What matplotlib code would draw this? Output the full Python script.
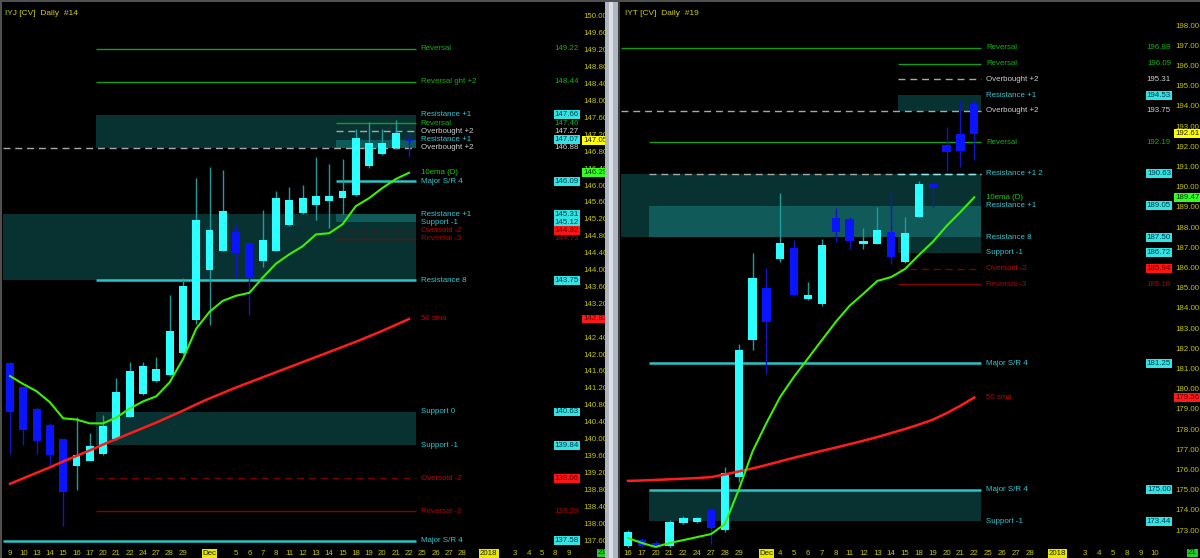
"""
Two daily candle panels (IYJ / IYT) with 10ema, 50 sma and level zones.
"""

import matplotlib
matplotlib.use("Agg")
import matplotlib.pyplot as plt
import matplotlib.transforms as mtransforms
from matplotlib.patches import Rectangle
import numpy as np

FS = 5.7
plt.rcParams["font.family"] = ["Liberation Sans", "DejaVu Sans"]
plt.rcParams["font.size"] = FS

# ---------------- IYJ ----------------
iyj_dates = ["9", "10", "13", "14", "15", "16", "17", "20", "21", "22", "24", "27", "28", "29", "",
             "Dec", "", "5", "6", "7", "8", "11", "12", "13", "14", "15", "18", "19", "20", "21",
             "22", "25", "26", "27", "28", "", "2018", "", "3", "4", "5", "8", "9"]
iyj_open = [141.79, 141.21, 140.71, 140.33, 139.98, 139.36, 139.48, 139.64, 139.98, 140.52,
            141.05, 141.36, 141.50, 142.02, 142.81, 143.98, 144.45, 144.90, 144.62, 144.21,
            144.45, 145.05, 145.33, 145.52, 145.62, 145.69, 145.76, 146.45, 146.74, 146.88, 147.10]
iyj_high = [141.82, 141.24, 140.74, 140.36, 140.00, 140.52, 140.14, 140.55, 141.43, 141.81,
            141.81, 141.93, 143.40, 143.81, 146.17, 146.43, 146.36, 145.05, 144.64, 145.40,
            145.86, 145.95, 146.00, 146.67, 146.50, 146.62, 147.33, 147.50, 147.33, 147.55, 147.24]
iyj_low = [139.64, 139.86, 139.64, 139.36, 137.93, 138.79, 139.46, 139.62, 139.96, 140.50,
           141.03, 141.34, 141.48, 142.00, 142.70, 142.69, 144.43, 143.79, 142.93, 144.05,
           144.43, 145.03, 145.31, 145.17, 144.98, 145.31, 145.74, 146.40, 146.72, 146.86, 146.67]
iyj_close = [140.64, 140.21, 139.95, 139.60, 138.74, 139.62, 139.83, 140.29, 141.10, 141.60,
             141.71, 141.64, 142.55, 143.60, 145.17, 144.93, 145.38, 144.38, 143.79, 144.69,
             145.69, 145.64, 145.69, 145.74, 145.74, 145.86, 147.12, 147.00, 147.00, 147.24, 147.05]
iyj_ema = [141.48, 141.29, 141.12, 140.86, 140.48, 140.45, 140.36, 140.36, 140.50, 140.71,
           140.88, 141.00, 141.33, 141.88, 142.60, 143.00, 143.26, 143.38, 143.45, 143.81,
           144.14, 144.36, 144.55, 144.83, 144.86, 145.07, 145.50, 145.69, 145.93, 146.14, 146.29]
iyj_sma = [138.93, 139.06, 139.19, 139.32, 139.46, 139.59, 139.72, 139.86, 139.99, 140.12,
           140.25, 140.38, 140.52, 140.66, 140.81, 140.95, 141.08, 141.21, 141.33, 141.45,
           141.57, 141.69, 141.81, 141.93, 142.05, 142.17, 142.29, 142.42, 142.55, 142.69, 142.83]

iyj_level_price = [149.22, 148.44, 147.66, 147.46, 147.27, 147.07, 146.88, 146.09, 145.31,
                   145.12, 144.92, 144.73, 143.75, 140.63, 139.84, 139.06, 138.28, 137.58]
iyj_level_name = ["Reversal", "Reversal ght +2", "Resistance +1", "Reversal", "Overbought +2",
                  "Resistance +1", "Overbought +2", "Major S/R 4", "Resistance +1", "Support -1",
                  "Oversold -2", "Reversal -3", "Resistance 8", "Support 0", "Support -1",
                  "Oversold -2", "Reversal -3", "Major S/R 4"]
iyj_level_kind = ["rev", "rev", "zone", "rev", "ob", "zone", "ob", "res", "zone", "zone",
                  "os", "rev3", "res", "zone", "zone", "os", "rev3", "res"]
iyj_level_start = [7, 7, 7, 25, 25, 25, 0, 25, 0, 25, 25, 25, 7, 7, 7, 7, 7, 0]

iyj_zone_top = [147.66, 147.07, 145.31, 145.31, 140.63]
iyj_zone_bottom = [146.88, 146.88, 143.75, 145.12, 139.84]
iyj_zone_start = [7, 25, 0, 25, 7]
iyj_zone_shade = ["dark", "light", "dark", "light", "dark"]

# ---------------- IYT ----------------
iyt_dates = ["16", "17", "20", "21", "22", "24", "27", "28", "29", "", "Dec", "4", "5", "6", "7",
             "8", "11", "12", "13", "14", "15", "18", "19", "20", "21", "22", "25", "26", "27",
             "28", "", "2018", "", "3", "4", "5", "8", "9", "10"]
iyt_open = [172.20, 172.50, 172.35, 172.20, 173.35, 173.40, 174.00, 173.00, 175.60, 182.40,
            184.98, 186.41, 186.96, 184.44, 184.20, 188.45, 188.40, 187.16, 187.16, 187.75,
            186.27, 188.50, 190.13, 192.06, 192.60, 194.09]
iyt_high = [173.00, 172.60, 172.45, 173.50, 173.70, 173.65, 174.10, 176.10, 182.20, 186.70,
            185.97, 189.68, 187.36, 185.28, 187.41, 188.94, 188.50, 187.95, 188.99, 189.73,
            188.50, 190.28, 190.18, 192.95, 194.24, 194.30]
iyt_low = [172.10, 172.10, 172.10, 172.10, 173.30, 173.35, 172.30, 172.90, 175.40, 181.90,
           180.70, 186.27, 184.58, 184.40, 184.10, 187.26, 186.91, 186.91, 187.14, 186.17,
           186.20, 188.48, 188.99, 190.77, 190.97, 191.32]
iyt_close = [172.90, 172.20, 172.20, 173.40, 173.60, 173.60, 173.10, 175.80, 181.90, 185.48,
             183.30, 187.21, 184.63, 184.63, 187.11, 187.75, 187.31, 187.31, 187.85, 186.51,
             187.70, 190.13, 189.93, 191.71, 191.76, 192.61]
iyt_ema = [172.60, 172.36, 172.16, 172.36, 172.50, 172.65, 172.80, 173.30, 175.00, 176.90,
           178.30, 179.60, 180.60, 181.50, 182.40, 183.30, 184.10, 184.70, 185.33, 185.52,
           185.92, 186.61, 187.26, 188.05, 188.74, 189.47]
iyt_sma = [175.43, 175.45, 175.48, 175.51, 175.54, 175.57, 175.62, 175.75, 175.90, 176.05,
           176.22, 176.40, 176.58, 176.75, 176.92, 177.08, 177.25, 177.42, 177.60, 177.80,
           178.00, 178.22, 178.46, 178.78, 179.15, 179.56]

iyt_level_price = [196.88, 196.09, 195.31, 194.53, 193.75, 192.19, 190.63, 190.63, 189.05,
                   187.50, 186.72, 185.94, 185.16, 181.25, 175.00, 173.44]
iyt_level_name = ["Reversal", "Reversal", "Overbought +2", "Resistance +1", "Overbought +2",
                  "Reversal", "", "Resistance +1 2", "Resistance +1", "Resistance 8",
                  "Support -1", "Oversold -2", "Reversal -3", "Major S/R 4", "Major S/R 4",
                  "Support -1"]
iyt_level_kind = ["rev", "rev", "ob", "zone", "ob", "rev", "ob", "resd", "zone", "zone",
                  "zone", "os", "rev3", "res", "res", "zone"]
iyt_level_start = [0, 20, 20, 20, 0, 2, 2, 20, 2, 0, 20, 20, 20, 2, 2, 2]

iyt_zone_top = [194.53, 190.63, 187.50, 189.05, 175.00]
iyt_zone_bottom = [193.75, 187.50, 186.72, 187.50, 173.44]
iyt_zone_start = [20, 0, 20, 2, 2]
iyt_zone_shade = ["dark", "dark", "dark", "light", "dark"]

# ---------------- styles ----------------
BULL, BEAR = "#2cffff", "#0a14ff"
BULL_WICK, BEAR_WICK = "#1e9c9c", "#1414c8"
EMA_COLOR, SMA_COLOR = "#3cf000", "#ff1c1c"
AXIS_TEXT = "#c4c400"
ZONE_SHADE = {"dark": "#083232", "light": "#115a5a"}
CYAN_BOX = dict(boxstyle="square,pad=0.12", fc="#33e4e4", ec="none")
RED_BOX = dict(boxstyle="square,pad=0.12", fc="#ff1414", ec="none")
LEVEL_STYLE = {
    "rev": dict(line="#14a014", ls="-", lw=1.0, text="#12b012", val="#12b012", box=None),
    "ob": dict(line="#a8a8a8", ls=(0, (5, 3.5)), lw=1.0, text="#cfcfcf", val="#cfcfcf", box=None),
    "res": dict(line="#26c6c6", ls="-", lw=1.8, text="#2ec8d2", val="#003a4a", box=CYAN_BOX),
    "resd": dict(line="#8ee6e6", ls=(0, (5, 3.5)), lw=1.0, text="#2ec8d2", val="#003a4a", box=CYAN_BOX),
    "zone": dict(line=None, ls="-", lw=1.0, text="#2ec8d2", val="#003a4a", box=CYAN_BOX),
    "os": dict(line="#7a0000", ls=(0, (5, 3.5)), lw=1.0, text="#c40000", val="#5a0000", box=RED_BOX),
    "rev3": dict(line="#8a0000", ls="-", lw=1.0, text="#b00000", val="#b00000", box=None),
}


def draw_panel(fig, rect, dates, o, h, l, c, ema, sma, levels, zones, xlim, ylim, yticks, title):
    """
    Draw one candle panel with its levels, moving averages and price axis.
    """
    ax = fig.add_axes(rect)
    ax.set_facecolor("black")
    for sp in ax.spines.values():
        sp.set_visible(False)
    ax.set_xlim(*xlim)
    ax.set_ylim(*ylim)

    n = len(c)
    x = np.arange(n)
    x_end = n - 1 + 0.5
    lab_tr = mtransforms.offset_copy(ax.transData, fig=fig, x=5, y=0, units="dots")
    val_tr = ax.get_yaxis_transform()

    # zones
    for top, bottom, start, shade in zip(*zones):
        ax.add_patch(Rectangle((start - 0.5, bottom), x_end - start + 0.5, top - bottom,
                               fc=ZONE_SHADE[shade], ec="none", zorder=1))

    # level lines and their labels
    for price, name, kind, start in zip(*levels):
        st = LEVEL_STYLE[kind]
        if st["line"]:
            ax.hlines(price, start - 0.5, x_end, colors=st["line"], linestyles=st["ls"],
                      linewidth=st["lw"], zorder=2)
        if name:
            ax.text(x_end, price, name, transform=lab_tr, color=st["text"], va="center",
                    ha="left", zorder=5)
            ax.text(0.998, price, f"{price:.2f}", transform=val_tr, color=st["val"],
                    va="center", ha="right", bbox=st["box"], zorder=5)

    # candles
    o, h, l, c = map(np.asarray, (o, h, l, c))
    up = c >= o
    ax.vlines(x[up], l[up], h[up], colors=BULL_WICK, linewidth=1, zorder=3)
    ax.vlines(x[~up], l[~up], h[~up], colors=BEAR_WICK, linewidth=1, zorder=3)
    body = np.maximum(np.abs(c - o), 0.02)
    ax.bar(x, body, bottom=np.minimum(o, c), width=0.6,
           color=np.where(up, BULL, BEAR), linewidth=0, zorder=3)

    # moving averages
    ax.plot(x, sma, color=SMA_COLOR, lw=1.8, zorder=4)
    ax.plot(x, ema, color=EMA_COLOR, lw=1.5, zorder=4)
    ax.text(x_end, ema[-1], "10ema (D)", transform=lab_tr, color="#22c800",
            va="center", ha="left", zorder=5)
    ax.text(x_end, sma[-1], "50 sma", transform=lab_tr, color="#c00000",
            va="center", ha="left", zorder=5)

    # price axis on the right
    ax.yaxis.tick_right()
    ax.set_yticks(yticks)
    ax.set_yticklabels([f"{v:.2f}" for v in yticks])
    ax.tick_params(axis="y", length=0, pad=2.2, colors=AXIS_TEXT, labelsize=FS)
    ax_tr = mtransforms.offset_copy(val_tr, fig=fig, x=3, y=0, units="dots")
    for val, fc, tc in ((c[-1], "#ffff00", "#202000"), (ema[-1], "#33ff22", "#003300"),
                        (sma[-1], "#ff1a1a", "#600000")):
        ax.text(1.0, val, f"{val:.2f}", transform=ax_tr, color=tc, va="center", ha="left",
                bbox=dict(boxstyle="square,pad=0.12", fc=fc, ec="none"), clip_on=False,
                zorder=6)

    # date axis
    ax.set_xticks(np.arange(len(dates)))
    ax.set_xticklabels(dates)
    ax.tick_params(axis="x", length=0, pad=1.4, colors=AXIS_TEXT, labelsize=FS)
    for lab in ax.get_xticklabels():
        if lab.get_text() in ("Dec", "2018"):
            lab.set_color("#202000")
            lab.set_bbox(dict(boxstyle="square,pad=0.12", fc="#e8e800", ec="none"))

    ax.text(0.008, 0.986, title, transform=ax.transAxes, color="#d0d000", fontsize=FS + 0.3,
            va="top", ha="left")
    return ax


W, H = 1200, 558
fig = plt.figure(figsize=(W / 100, H / 100), dpi=100, facecolor="black")

draw_panel(fig, [0 / W, 10 / H, 580 / W, 546 / H], iyj_dates,
           iyj_open, iyj_high, iyj_low, iyj_close, iyj_ema, iyj_sma,
           (iyj_level_price, iyj_level_name, iyj_level_kind, iyj_level_start),
           (iyj_zone_top, iyj_zone_bottom, iyj_zone_start, iyj_zone_shade),
           (-0.752, 42.857), (137.411, 150.331), np.arange(137.6, 150.01, 0.4),
           "IYJ [CV]  Daily  #14")

draw_panel(fig, [621 / W, 10 / H, 551 / W, 546 / H], iyt_dates,
           iyt_open, iyt_high, iyt_low, iyt_close, iyt_ema, iyt_sma,
           (iyt_level_price, iyt_level_name, iyt_level_kind, iyt_level_start),
           (iyt_zone_top, iyt_zone_bottom, iyt_zone_start, iyt_zone_shade),
           (-0.505, 39.28), (172.109, 199.139), np.arange(173, 198.5, 1.0),
           "IYT [CV]  Daily  #19")

# current-bar markers on the date axis
for px in (598, 1188):
    fig.text(px / W, 5 / H, "21", color="#003300", fontsize=FS, va="center", ha="left",
             bbox=dict(boxstyle="square,pad=0.12", fc="#22cc22", ec="none"), zorder=3)

# window frame between the panels
fig.add_artist(Rectangle((605 / W, 0), 13 / W, 1, transform=fig.transFigure,
                         fc="#aeb6c2", ec="none", zorder=10))
fig.add_artist(Rectangle((609 / W, 0), 4 / W, 1, transform=fig.transFigure,
                         fc="#dcdfe4", ec="none", zorder=10))
fig.add_artist(Rectangle((618 / W, 0), 2 / W, 1, transform=fig.transFigure,
                         fc="#3a3a3a", ec="none", zorder=10))
fig.add_artist(Rectangle((0, 0), 2 / W, 1, transform=fig.transFigure,
                         fc="#505050", ec="none", zorder=10))
fig.add_artist(Rectangle((0, 1 - 2 / H), 1, 2 / H, transform=fig.transFigure,
                         fc="#505050", ec="none", zorder=10))

fig.savefig("out.png", dpi=100, facecolor="black")
